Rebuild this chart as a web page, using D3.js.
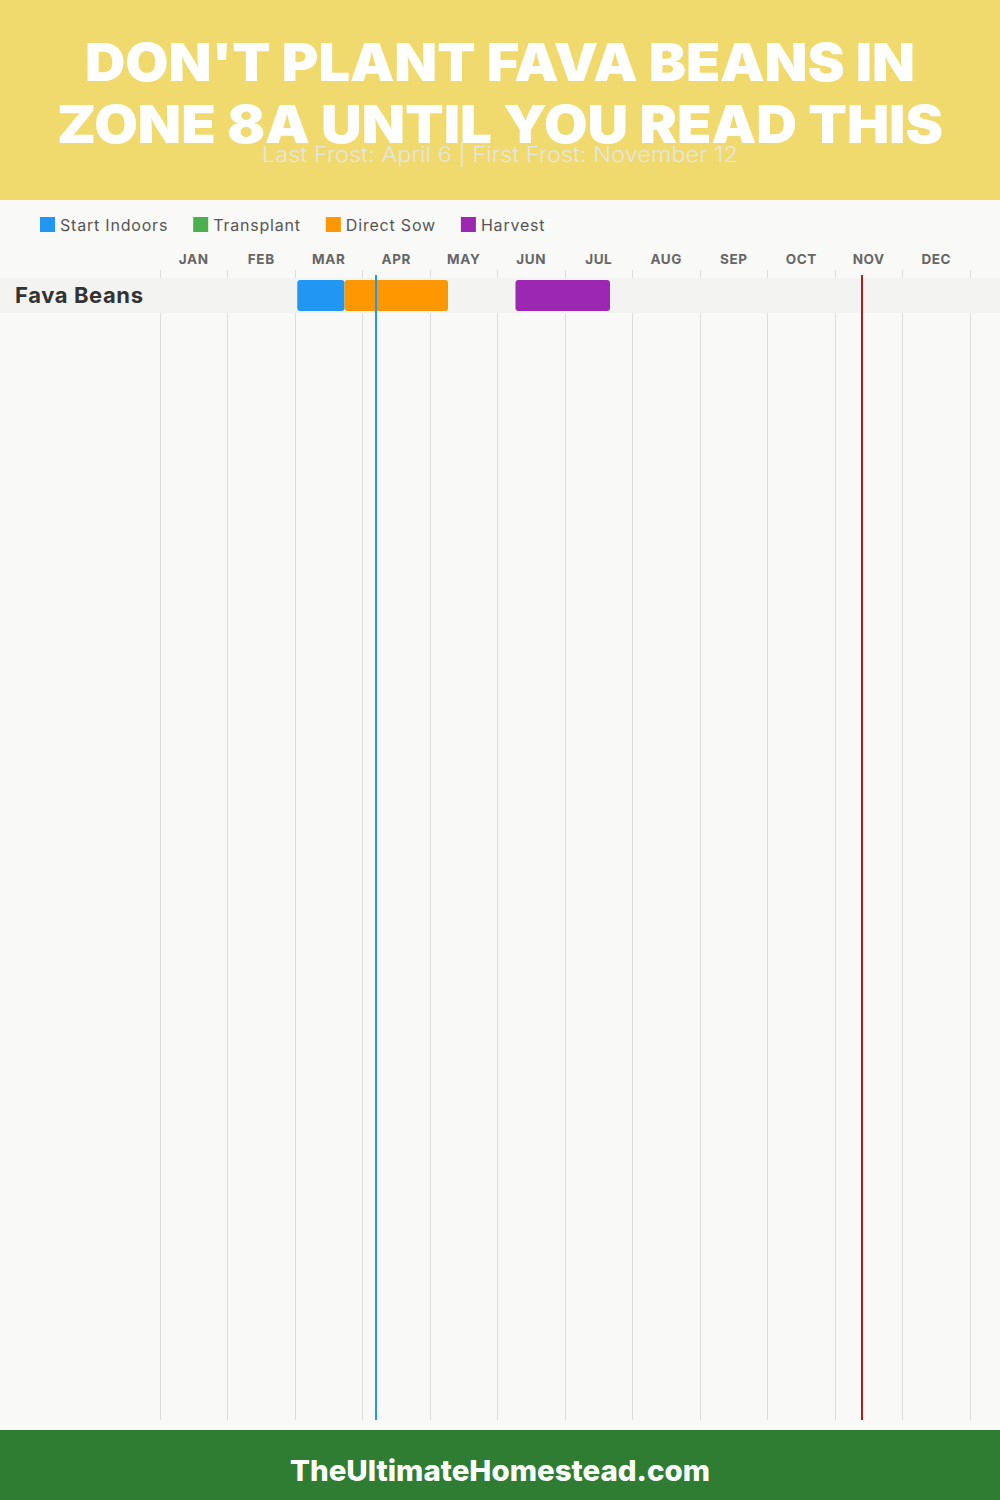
<!DOCTYPE html>
<html><head><meta charset="utf-8">
<script src="https://cdn.jsdelivr.net/npm/d3@7"></script>
<style>
html,body{margin:0;padding:0;background:#f9f9f7;}
svg{display:block;}
</style></head>
<body>
<svg id="chart" width="1000" height="1500"></svg>
<script>
const titleLines = ["DON'T PLANT FAVA BEANS IN", "ZONE 8A UNTIL YOU READ THIS"];
const subtitle = "Last Frost: April 6 | First Frost: November 12";
const footerText = "TheUltimateHomestead.com";
const months = ["JAN","FEB","MAR","APR","MAY","JUN","JUL","AUG","SEP","OCT","NOV","DEC"];
const legendNames = ["Start Indoors","Transplant","Direct Sow","Harvest"];
const legendColors = ["#2196F3","#4CAF50","#FF9800","#9C27B0"];
const crops = ["Fava Beans"];
// phase: [crop, phase, startMonth(1-12), startDay, endMonth, endDay]
const phases = [
  ["Fava Beans","Start Indoors",3,1,3,22],
  ["Fava Beans","Direct Sow",3,22,5,8],
  ["Fava Beans","Harvest",6,8,7,20]
];
const frostDates = [
  {name:"Last Frost", month:4, day:6, color:"#2196F3"},
  {name:"First Frost", month:11, day:12, color:"#B71C1C"}
];

const svg = d3.select("#chart");
const W = 1000, H = 1500;
const font = "Inter, 'Open Sans', 'DejaVu Sans', sans-serif";

// header
svg.append("rect").attr("x",0).attr("y",0).attr("width",W).attr("height",200).attr("fill","#F0DA6E");
const tWidths = [830, 886];
titleLines.forEach((t,i)=>{
  svg.append("text").attr("x",W/2).attr("y",81+i*62).attr("text-anchor","middle")
    .attr("font-family",font).attr("font-weight",900).attr("font-size",52)
    .attr("fill","#fff").attr("textLength",tWidths[i]).attr("lengthAdjust","spacingAndGlyphs").text(t);
});
svg.append("text").attr("x",W/2).attr("y",162).attr("text-anchor","middle")
  .attr("font-family",font).attr("font-weight",300).attr("font-size",21)
  .attr("fill","#e6e6e0").attr("textLength",476).attr("lengthAdjust","spacingAndGlyphs").text(subtitle);

// body background
svg.append("rect").attr("x",0).attr("y",200).attr("width",W).attr("height",1230).attr("fill","#f9f9f7");

// legend
let lx = 40;
const lg = svg.append("g");
legendNames.forEach((n,i)=>{
  lg.append("rect").attr("x",lx).attr("y",217).attr("width",15).attr("height",15).attr("fill",legendColors[i]);
  const t = lg.append("text").attr("x",lx+20).attr("y",231).attr("font-family",font).attr("font-size",16)
    .attr("letter-spacing",0.8).attr("fill","#555").text(n);
  lx += 20 + t.node().getComputedTextLength() + 25;
});

// scales
const x = d3.scaleLinear().domain([0,12]).range([160,970]);
const mpos = (m,d)=> x((m-1) + d/30);
const rowY = d3.scaleBand().domain(crops).range([278, 278+35*crops.length]);

// gridlines
svg.append("g").selectAll("line").data(d3.range(13)).join("line")
  .attr("x1",d=>x(d)).attr("x2",d=>x(d)).attr("y1",270).attr("y2",1420)
  .attr("stroke","#dddddd").attr("stroke-width",1).attr("shape-rendering","crispEdges");

// month labels
svg.append("g").selectAll("text").data(months).join("text")
  .attr("x",(d,i)=>x(i+0.5)).attr("y",264).attr("text-anchor","middle")
  .attr("font-family",font).attr("font-weight",700).attr("font-size",13.5).attr("fill","#666")
  .attr("letter-spacing",0.6).text(d=>d);

// row bands
svg.append("g").selectAll("rect").data(crops).join("rect")
  .attr("x",0).attr("y",d=>rowY(d)).attr("width",W).attr("height",rowY.bandwidth()).attr("fill","#f3f3f2");
svg.append("g").selectAll("text").data(crops).join("text")
  .attr("x",15).attr("y",d=>rowY(d)+rowY.bandwidth()/2+7.5).attr("font-family",font).attr("font-weight",700)
  .attr("font-size",22).attr("letter-spacing",0.6).attr("fill","#333").text(d=>d);

// bars
const colorOf = d3.scaleOrdinal().domain(legendNames).range(legendColors);
svg.append("g").selectAll("rect").data(phases).join("rect")
  .attr("x",d=>mpos(d[2],d[3])).attr("width",d=>mpos(d[4],d[5])-mpos(d[2],d[3]))
  .attr("y",d=>rowY(d[0])+2).attr("height",rowY.bandwidth()-4).attr("rx",3)
  .attr("fill",d=>colorOf(d[1]));

// frost lines
svg.append("g").selectAll("line").data(frostDates).join("line")
  .attr("x1",d=>mpos(d.month,d.day)).attr("x2",d=>mpos(d.month,d.day))
  .attr("y1",275).attr("y2",1420).attr("stroke",d=>d.color).attr("stroke-width",2);

// footer
svg.append("rect").attr("x",0).attr("y",1430).attr("width",W).attr("height",70).attr("fill","#2E7D32");
svg.append("text").attr("x",W/2).attr("y",1481).attr("text-anchor","middle")
  .attr("font-family",font).attr("font-weight",800).attr("font-size",29).attr("fill","#fff")
  .attr("textLength",420).attr("lengthAdjust","spacingAndGlyphs").text(footerText);
</script>
</body></html>
